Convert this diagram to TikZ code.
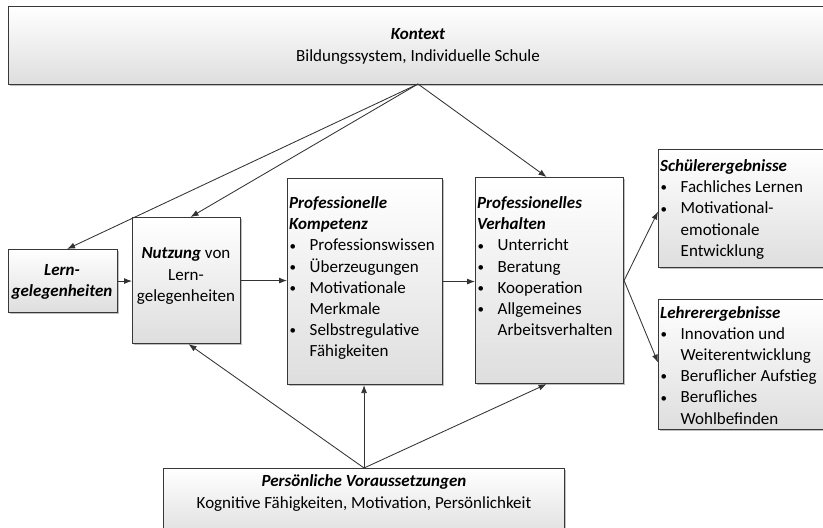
\documentclass[tikz,border=0pt]{standalone}
\usepackage{fontspec}
\setmainfont{Carlito}
\usetikzlibrary{arrows.meta,shadows,calc}
\newcommand\fs{\fontsize{17}{21.2}\selectfont}
\newcommand\Bu{\makebox[20.5pt][l]{\hspace{0.5pt}\raisebox{0.8pt}{\fontsize{13}{13}\selectfont\textbullet}}}
\newcommand\Cu{\hspace*{20.5pt}}
\newcommand\ttl[1]{\textbf{\textit{#1}}}
\newcommand\lst[1]{\parbox[t]{220pt}{\fs\raggedright #1}}
\tikzset{
  box/.style={draw=black!78, line width=1.1pt, top color=white, bottom color=black!13,
    anchor=north west, inner sep=0pt,
    drop shadow={shadow xshift=1.6pt, shadow yshift=-1.6pt, opacity=0.25, fill=black}},
  arr/.style={draw=black!80, line width=0.85pt, -{Latex[length=8pt,width=6pt]}},
  lt/.style={anchor=base west, inner sep=0pt},
  ct/.style={align=center, inner sep=0pt, font=\fs},
}
\begin{document}
\begin{tikzpicture}[x=1pt,y=-1pt]
\useasboundingbox (0,0) rectangle (823,528);
\fill[white] (0,0) rectangle (823,528);
\clip (0,0) rectangle (823,528);
% boxes
\node[box, minimum width=822pt, minimum height=78pt] (kontext) at (8,6) {};
\node[box, minimum width=109pt, minimum height=63pt] (lern) at (8,249) {};
\node[box, minimum width=108pt, minimum height=126pt] (nutz) at (132,217) {};
\node[box, minimum width=155pt, minimum height=206pt] (komp) at (287,178) {};
\node[box, minimum width=148pt, minimum height=206pt] (verh) at (475,177) {};
\node[box, minimum width=175pt, minimum height=118pt] (schuel) at (658,149) {};
\node[box, minimum width=175pt, minimum height=130pt] (lehrer) at (658,299) {};
\node[box, minimum width=401pt, minimum height=70pt] (pers) at (163,468) {};
% texts
\node[ct] (tkontext) at (418,46.5) {\ttl{Kontext}\\Bildungssystem, Individuelle Schule};
\node[ct, font=\fs\bfseries\itshape] (tlern) at (62,282) {Lern-\\gelegenheiten};
\node[ct] (tnutz) at (186,276) {\ttl{Nutzung} von\\Lern-\\gelegenheiten};
\node[ct] (tpers) at (364,493) {\ttl{Persönliche Voraussetzungen}\\Kognitive Fähigkeiten, Motivation, Persönlichkeit};
\node[lt] (tkomp) at (289,208.5) {\lst{\ttl{Professionelle}\\
  \ttl{Kompetenz}\\
  \Bu Professionswissen\\
  \Bu Überzeugungen\\
  \Bu Motivationale\\
  \Cu Merkmale\\
  \Bu Selbstregulative\\
  \Cu Fähigkeiten}};
\node[lt] (tverh) at (477,208.5) {\lst{\ttl{Professionelles}\\
  \ttl{Verhalten}\\
  \Bu Unterricht\\
  \Bu Beratung\\
  \Bu Kooperation\\
  \Bu Allgemeines\\
  \Cu Arbeitsverhalten}};
\node[lt] (tschuel) at (660,171.5) {\lst{\ttl{Schülerergebnisse}\\
  \Bu Fachliches Lernen\\
  \Bu Motivational-\\
  \Cu emotionale\\
  \Cu Entwicklung}};
\node[lt] (tlehrer) at (660,318) {\lst{\ttl{Lehrerergebnisse}\\
  \Bu Innovation und\\
  \Cu Weiterentwicklung\\
  \Bu Beruflicher Aufstieg\\
  \Bu Berufliches\\
  \Cu Wohlbefinden}};
% connectors
\coordinate (kapex) at (418,84);
\draw[arr] (kapex) -- ($(lern.north)+(4,0)$);
\draw[arr] (kapex) -- ($(nutz.north)+(4,0)$);
\draw[arr] (kapex) -- ($(verh.north)+(-3,0)$);
\draw[arr] (lern.east) -- (lern.east -| nutz.west);
\draw[arr] (nutz.east) -- (nutz.east -| komp.west);
\draw[arr] (komp.east) -- (komp.east -| verh.west);
\draw[arr] (verh.east) -- ($(schuel.west)+(0,3)$);
\draw[arr] (verh.east) -- ($(lehrer.west)+(0,-2)$);
\draw[arr] (pers.north) -- ($(nutz.south)+(2,0)$);
\draw[arr] (pers.north) -- (pers.north |- komp.south);
\draw[arr] (pers.north) -- ($(verh.south)+(-3,0)$);
\end{tikzpicture}
\end{document}
